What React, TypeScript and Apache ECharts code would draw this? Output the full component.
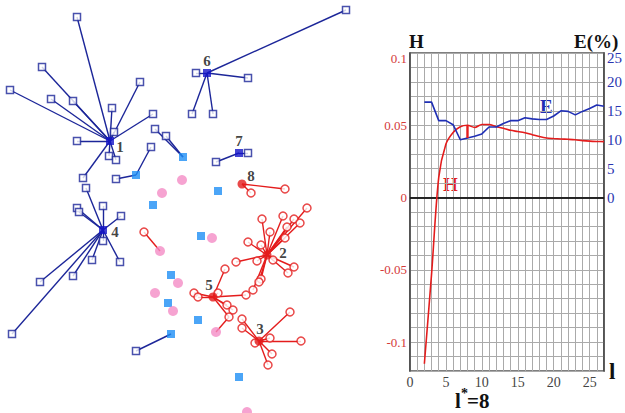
import React, { useEffect, useRef } from "react";
import * as echarts from "echarts";

// ---------- Right chart data ----------
const lValues = [2, 3, 4, 5, 6, 7, 8, 9, 10, 11, 12, 13, 14, 15, 16, 17, 18, 19, 20, 21, 22, 23, 24, 25, 26, 27];
const hValues = [-0.115, -0.053, 0.014, 0.037, 0.045, 0.049, 0.05, 0.0485, 0.0505, 0.0505, 0.049, 0.048, 0.0465, 0.0457, 0.0448, 0.0435, 0.0422, 0.0412, 0.0408, 0.0405, 0.0403, 0.04, 0.0394, 0.039, 0.0388, 0.0387];
const eValues = [16.5, 16.5, 13.3, 13.3, 12.6, 10.0, 10.3, 10.6, 11.0, 12.2, 12.2, 12.8, 13.3, 13.3, 13.8, 13.6, 13.5, 13.5, 14.1, 15.0, 14.9, 14.3, 14.9, 15.4, 16.0, 15.8];
const optimalL = 8;
const hTickLabels = [0.1, 0.05, 0, -0.05, -0.1];
const eTickLabels = [0, 5, 10, 15, 20, 25];
const xTickLabels = [0, 5, 10, 15, 20, 25];

// ---------- Left network data (blue clusters) ----------
const c1Center = [110, 141];
const c1Members = [[77, 17], [42, 67], [10, 90], [51, 99], [73, 101], [140, 82], [112, 108], [153, 114], [114, 132], [77, 141], [109, 156], [116, 160], [83, 178]];
const c4Center = [103, 230];
const c4Members = [[86, 188], [77, 208], [79, 212], [103, 206], [121, 216], [103, 241], [92, 260], [120, 262], [73, 276], [40, 282], [12, 334]];
const c6Center = [207, 73];
const c6Members = [[196, 73], [248, 78], [192, 114], [213, 114], [346, 10]];
const c7Center = [239, 153];
const c7Members = [[248, 153], [216, 162]];

// light blue squares with attached open squares
const lbA = [183, 157];
const lbAMembers = [[155, 129], [166, 136]];
const lbB = [136, 175];
const lbBMembers = [[151, 147], [116, 179]];
const lbC = [171, 334];
const lbCMembers = [[136, 351]];
const lightBlueSingles = [[153, 205], [218, 191], [201, 236], [171, 275], [168, 303], [198, 320], [239, 377]];

// pink circles
const pinkPoints = [[182, 180], [162, 193], [212, 238], [160, 251], [178, 283], [155, 293], [173, 311], [216, 332], [247, 412]];

// red clusters
const c8Center = [242, 184];
const c8Members = [[285, 189], [251, 193]];
const c2Center = [267, 255];
const c2Members = [[307, 208], [283, 216], [262, 219], [294, 219], [300, 223], [287, 227], [285, 238], [270, 232], [248, 242], [261, 245], [236, 262], [257, 261], [273, 260], [294, 267], [288, 273], [261, 279], [259, 282], [253, 290]];
const c5Center = [213, 297];
const c5Members = [[225, 269], [194, 293], [198, 297], [218, 293], [246, 295], [227, 305], [233, 310], [229, 317]];
const c3Center = [259, 341];
const c3Members = [[242, 319], [242, 328], [290, 312], [270, 338], [301, 341], [255, 343], [272, 354], [268, 365]];
const redSingle = [144, 232];
const redExtraEdges = [[[144, 232], [160, 251]], [[229, 317], [216, 332]]];

const clusterNames = ["1", "4", "6", "7", "8", "2", "5", "3"];

const NAVY = "#1c2699";
const BLUE_C = "#1414c8";
const LIGHT_BLUE = "#1e8ef5";
const PINK = "#f48cc6";
const RED = "#e41c1c";
const SERIF = "'Liberation Serif', 'DejaVu Serif', serif";

function star(center: number[], members: number[][]) {
  return members.map((m) => ({ coords: [center, m] }));
}

export default function App() {
  const ref = useRef<HTMLDivElement>(null);

  useEffect(() => {
    document.body.style.margin = "0";
    const chart = echarts.init(ref.current!, null, { renderer: "svg" });

    const hData = lValues.map((l, i) => [l, hValues[i]]);
    const eData = lValues.map((l, i) => [l, eValues[i]]);
    const idx = lValues.indexOf(optimalL);
    const gapSegment = [[optimalL, eValues[idx] / 250], [optimalL, hValues[idx]]];

    const blueEdges = [
      ...star(c1Center, c1Members),
      ...star(c4Center, c4Members),
      ...star(c6Center, c6Members),
      ...star(c7Center, c7Members),
      ...star(lbA, lbAMembers),
      ...star(lbB, lbBMembers),
      ...star(lbC, lbCMembers),
    ];
    const redEdges = [
      ...star(c8Center, c8Members),
      ...star(c2Center, c2Members),
      ...star(c5Center, c5Members),
      ...star(c3Center, c3Members),
      ...redExtraEdges.map((e) => ({ coords: e })),
    ];
    const openSquares = [
      ...c1Members, ...c4Members, ...c6Members, ...c7Members,
      ...lbAMembers, ...lbBMembers, ...lbCMembers,
    ];
    const openCircles = [...c8Members, ...c2Members, ...c5Members, ...c3Members, redSingle];

    const labelPos: Record<string, number[]> = {
      "1": [10, 6], "4": [12, 2], "6": [0, -12], "7": [0, -12],
      "8": [9, -8], "2": [16, -2], "5": [-4, -12], "3": [1, -12],
    };
    const centersBlue = [c1Center, c4Center, c6Center, c7Center];
    const centersRed = [c8Center, c2Center, c5Center, c3Center];
    const mkCenter = (c: number[], name: string) => ({
      value: c,
      name,
      label: { offset: labelPos[name] },
    });

    const leftAxisOpts = { xAxisIndex: 1, yAxisIndex: 2 };

    chart.setOption({
      animation: false,
      grid: [
        { left: 410, top: 53, width: 196, height: 318, show: true, borderColor: "#555", borderWidth: 1.5, backgroundColor: "transparent" },
        { left: 0, top: 0, width: 360, height: 413, show: false },
      ],
      xAxis: [
        {
          gridIndex: 0, type: "value", min: 0, max: 27, interval: 1,
          axisLine: { lineStyle: { color: "#444", width: 1.5 } },
          axisTick: { show: false },
          splitLine: { show: true, lineStyle: { color: "#aaa", width: 1 } },
          axisLabel: {
            margin: 4, color: "#444", fontFamily: SERIF, fontSize: 14,
            formatter: (v: number) => (xTickLabels.includes(v) ? String(v) : ""),
          },
        },
        { gridIndex: 1, type: "value", min: 0, max: 360, show: false },
      ],
      yAxis: [
        {
          gridIndex: 0, type: "value", min: -0.12, max: 0.1, interval: 0.01,
          axisLine: { show: true, lineStyle: { color: "#444", width: 1.5 } },
          axisTick: { show: false },
          splitLine: { show: true, lineStyle: { color: "#aaa", width: 1 } },
          axisLabel: {
            margin: 3, color: "#d43a3a", fontFamily: SERIF, fontSize: 13,
            formatter: (v: number) => {
              const hit = hTickLabels.find((t) => Math.abs(t - v) < 1e-6);
              if (hit === undefined) return "";
              return hit === hTickLabels[0] ? `{top|${hit}}` : String(hit);
            },
            rich: { top: { padding: [10, 0, 0, 0], color: "#d43a3a", fontFamily: SERIF, fontSize: 13 } },
          },
        },
        {
          gridIndex: 0, type: "value", min: -30, max: 25, interval: 5, position: "right",
          axisLine: { show: true, lineStyle: { color: "#444", width: 1.5 } },
          axisTick: { show: false },
          splitLine: { show: false },
          axisLabel: {
            margin: 3, color: "#2a35b0", fontFamily: SERIF, fontSize: 15,
            formatter: (v: number) => {
              if (!eTickLabels.includes(v)) return "";
              return v === eTickLabels[eTickLabels.length - 1] ? `{top|${v}}` : String(v);
            },
            rich: { top: { padding: [10, 0, 0, 0], color: "#2a35b0", fontFamily: SERIF, fontSize: 15 } },
          },
        },
        { gridIndex: 1, type: "value", min: 0, max: 413, inverse: true, show: false },
      ],
      series: [
        {
          type: "line", xAxisIndex: 0, yAxisIndex: 0, data: hData, smooth: 0.3,
          symbol: "none", lineStyle: { color: RED, width: 1.6 }, z: 5,
          markLine: {
            silent: true, symbol: "none", label: { show: false },
            data: [
              { yAxis: 0, lineStyle: { color: "#111", width: 1.5, type: "solid" } },
            ],
          },
        },
        {
          type: "line", xAxisIndex: 0, yAxisIndex: 1, data: eData,
          symbol: "none", lineStyle: { color: "#1f2fb5", width: 1.6 }, z: 5,
        },
        {
          type: "line", xAxisIndex: 0, yAxisIndex: 0, data: gapSegment,
          symbol: "none", lineStyle: { color: RED, width: 2.4 }, z: 6,
        },
        // left network
        {
          type: "lines", coordinateSystem: "cartesian2d", ...leftAxisOpts,
          data: blueEdges, lineStyle: { color: NAVY, width: 1.4, opacity: 1 }, z: 2,
        },
        {
          type: "lines", coordinateSystem: "cartesian2d", ...leftAxisOpts,
          data: redEdges, lineStyle: { color: RED, width: 1.4, opacity: 1 }, z: 2,
        },
        {
          type: "scatter", ...leftAxisOpts, data: openSquares, symbol: "rect", symbolSize: 7,
          itemStyle: { color: "#fff", borderColor: NAVY, borderWidth: 1.5 }, z: 3,
        },
        {
          type: "scatter", ...leftAxisOpts, data: openCircles, symbol: "circle", symbolSize: 8,
          itemStyle: { color: "#fff", borderColor: RED, borderWidth: 1.5 }, z: 3,
        },
        {
          type: "scatter", ...leftAxisOpts, data: [lbA, lbB, lbC, ...lightBlueSingles], symbol: "rect", symbolSize: 8,
          itemStyle: { color: LIGHT_BLUE }, z: 3,
        },
        {
          type: "scatter", ...leftAxisOpts, data: pinkPoints, symbol: "circle", symbolSize: 10,
          itemStyle: { color: PINK }, z: 3,
        },
        {
          type: "scatter", ...leftAxisOpts,
          data: centersBlue.map((c, i) => mkCenter(c, clusterNames[i])),
          symbol: "rect", symbolSize: 8, itemStyle: { color: BLUE_C }, z: 4,
          label: { show: true, formatter: "{b}", position: "inside", color: "#111", fontFamily: SERIF, fontWeight: "bold", fontSize: 15 },
        },
        {
          type: "scatter", ...leftAxisOpts,
          data: centersRed.map((c, i) => mkCenter(c, clusterNames[i + 4])),
          symbol: "circle", symbolSize: 9, itemStyle: { color: RED }, z: 4,
          label: { show: true, formatter: "{b}", position: "inside", color: "#111", fontFamily: SERIF, fontWeight: "bold", fontSize: 15 },
        },
      ],
      graphic: [
        { type: "text", left: 409, top: 32, style: { text: "H", font: `bold 19px ${SERIF}`, fill: "#111" } },
        { type: "text", left: 574, top: 32, style: { text: "E(%)", font: `bold 19px ${SERIF}`, fill: "#111" } },
        { type: "text", left: 609, top: 360, style: { text: "l", font: `bold 23px ${SERIF}`, fill: "#111" } },
        { type: "text", left: 455, top: 390, style: { text: "l", font: `bold 21px ${SERIF}`, fill: "#111" } },
        { type: "text", left: 461, top: 386, style: { text: "*", font: `bold 14px ${SERIF}`, fill: "#111" } },
        { type: "text", left: 467, top: 390, style: { text: "=8", font: `bold 21px ${SERIF}`, fill: "#111" } },
        { type: "text", left: 540, top: 97, style: { text: "E", font: `bold 19px ${SERIF}`, fill: "#1f2fb5" } },
        { type: "text", left: 443, top: 175, style: { text: "H", font: `bold 19px ${SERIF}`, fill: RED } },
      ],
    });
    return () => chart.dispose();
  }, []);

  return <div ref={ref} style={{ width: 625, height: 413 }} />;
}
